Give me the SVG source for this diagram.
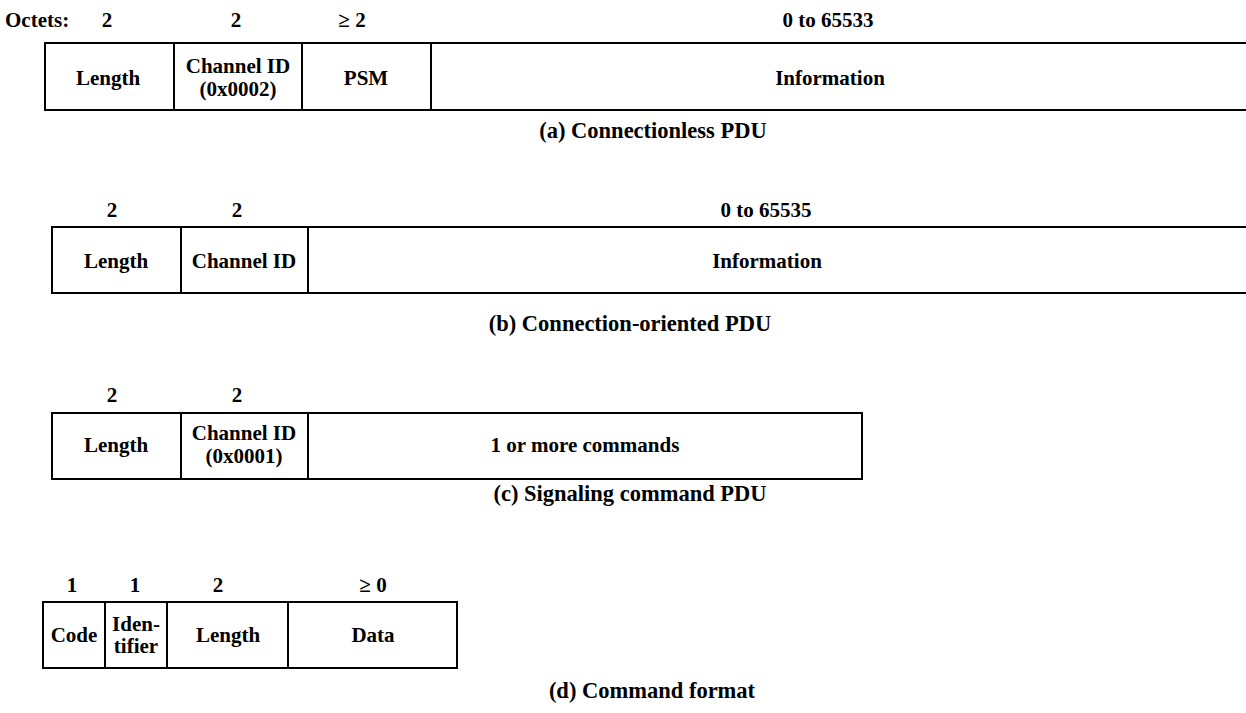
<svg xmlns="http://www.w3.org/2000/svg" width="1246" height="713" viewBox="0 0 1246 713">
<style>
text{font-family:"Liberation Serif","Times New Roman",serif;font-weight:bold;font-size:21px;fill:#000;text-anchor:middle}
.l{text-anchor:start}
.c{font-size:22.5px}
.b{fill:none;stroke:#000;stroke-width:2}
</style>
<rect width="1246" height="713" fill="#fff"/>
<g id="row-a">
<text class="l" x="5" y="27">Octets:</text>
<text x="107" y="27">2</text>
<text x="236" y="27">2</text>
<text x="352" y="27">≥ 2</text>
<text x="828" y="27">0 to 65533</text>
<path class="b" d="M1246 43H45V110H1246M174 43V110M302 43V110M431 43V110"/>
<text x="108" y="85">Length</text>
<text x="238" y="73">Channel ID</text>
<text x="238" y="96">(0x0002)</text>
<text x="366" y="85">PSM</text>
<text x="830" y="85">Information</text>
<text class="c" x="653" y="138">(a) Connectionless PDU</text>
</g>
<g id="row-b">
<text x="112" y="217">2</text>
<text x="237" y="217">2</text>
<text x="766" y="217">0 to 65535</text>
<path class="b" d="M1246 227H52V293H1246M181 227V293M308 227V293"/>
<text x="116" y="268">Length</text>
<text x="244" y="268">Channel ID</text>
<text x="767" y="268">Information</text>
<text class="c" x="630" y="331">(b) Connection-oriented PDU</text>
</g>
<g id="row-c">
<text x="112" y="402">2</text>
<text x="237" y="402">2</text>
<path class="b" d="M52 413H862V479H52ZM181 413V479M308 413V479"/>
<text x="116" y="452">Length</text>
<text x="244" y="440">Channel ID</text>
<text x="244" y="463">(0x0001)</text>
<text x="585" y="452">1 or more commands</text>
<text class="c" x="630" y="501">(c) Signaling command PDU</text>
</g>
<g id="row-d">
<text x="72" y="592">1</text>
<text x="135" y="592">1</text>
<text x="218" y="592">2</text>
<text x="373" y="592">≥ 0</text>
<path class="b" d="M43 602H457V668H43ZM105 602V668M167 602V668M288 602V668"/>
<text x="74" y="642">Code</text>
<text x="136" y="631">Iden-</text>
<text x="136" y="653">tifier</text>
<text x="228" y="642">Length</text>
<text x="373" y="642">Data</text>
<text class="c" x="652" y="698">(d) Command format</text>
</g>
</svg>
